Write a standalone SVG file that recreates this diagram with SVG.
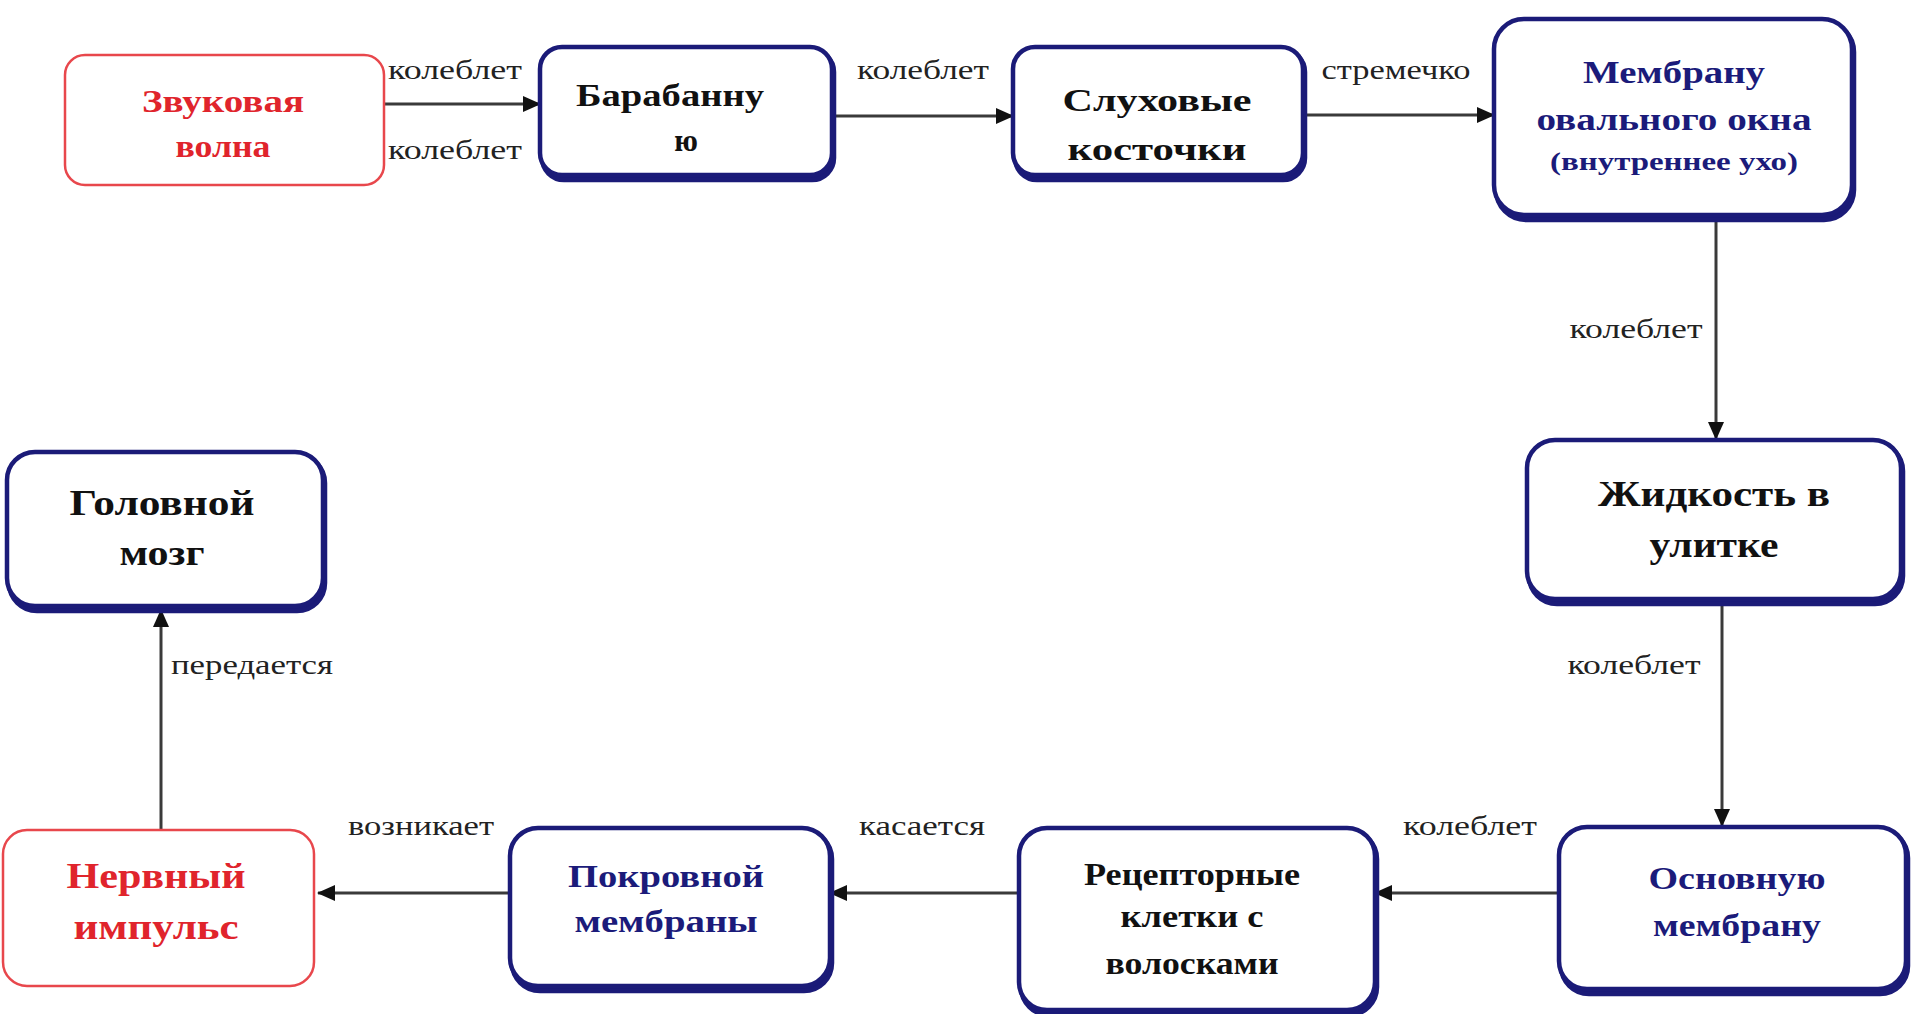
<svg xmlns="http://www.w3.org/2000/svg" width="1913" height="1014" viewBox="0 0 1913 1014">
<style>
.bg{fill:#ffffff}
.nb{fill:#ffffff;stroke:#1b1b78;stroke-width:4.5}
.sd{fill:#1b1b78;stroke:#1b1b78;stroke-width:4.5}
.nr{fill:#ffffff;stroke:#e8474c;stroke-width:2.5}
.t{font-family:'Liberation Serif','DejaVu Serif',serif;font-weight:bold;font-size:31px;text-anchor:middle}
.blk{fill:#111111}
.blu{fill:#1b1b7a}
.red{fill:#e0242c}
.lbl{font-family:'Liberation Serif','DejaVu Serif',serif;font-size:27px;fill:#222222;text-anchor:middle}
.c{stroke:#3a3a3a;stroke-width:3;fill:none;marker-end:url(#ah)}
</style>
<defs>
<marker id="ah" markerWidth="18" markerHeight="16" refX="17" refY="8" orient="auto" markerUnits="userSpaceOnUse" viewBox="0 0 18 16">
<path d="M0,0 L18,8 L0,16 z" fill="#111111"/>
</marker>
</defs>
<rect class="bg" x="0" y="0" width="1913" height="1014"/>

<g id="connectors">
<path class="c" d="M384,104 L540,104"/>
<path class="c" d="M832,116 L1013,116"/>
<path class="c" d="M1303,115 L1494,115"/>
<path class="c" d="M1716,217 L1716,439"/>
<path class="c" d="M1722,601 L1722,826"/>
<path class="c" d="M1559,893 L1375,893"/>
<path class="c" d="M1019,893 L830,893"/>
<path class="c" d="M510,893 L318,893"/>
<path class="c" d="M161,830 L161,610"/>
<text class="lbl" x="455" y="79" textLength="134" lengthAdjust="spacingAndGlyphs">колеблет</text>
<text class="lbl" x="455" y="159" textLength="134" lengthAdjust="spacingAndGlyphs">колеблет</text>
<text class="lbl" x="923" y="79" textLength="132" lengthAdjust="spacingAndGlyphs">колеблет</text>
<text class="lbl" x="1396" y="79" textLength="149" lengthAdjust="spacingAndGlyphs">стремечко</text>
<text class="lbl" x="1636" y="338" textLength="133" lengthAdjust="spacingAndGlyphs">колеблет</text>
<text class="lbl" x="1634" y="674" textLength="133" lengthAdjust="spacingAndGlyphs">колеблет</text>
<text class="lbl" x="1470" y="835" textLength="134" lengthAdjust="spacingAndGlyphs">колеблет</text>
<text class="lbl" x="922" y="835" textLength="126" lengthAdjust="spacingAndGlyphs">касается</text>
<text class="lbl" x="421" y="835" textLength="146" lengthAdjust="spacingAndGlyphs">возникает</text>
<text class="lbl" x="252" y="674" textLength="162" lengthAdjust="spacingAndGlyphs">передается</text>
</g>

<g id="n-zvuk">
<rect class="nr" x="65" y="55" width="319" height="130" rx="20"/>
<text class="t red" x="223" y="112" textLength="162" lengthAdjust="spacingAndGlyphs">Звуковая</text>
<text class="t red" x="223" y="157" textLength="95" lengthAdjust="spacingAndGlyphs">волна</text>
</g>

<g id="n-baraban">
<rect class="sd" x="542" y="50" width="292" height="130" rx="22"/>
<rect class="nb" x="540" y="47" width="292" height="128" rx="22"/>
<text class="t blk" x="670" y="106" textLength="188" lengthAdjust="spacingAndGlyphs">Барабанну</text>
<text class="t blk" x="686" y="151">ю</text>
</g>

<g id="n-kostochki">
<rect class="sd" x="1015" y="50" width="290" height="130" rx="22"/>
<rect class="nb" x="1013" y="47" width="290" height="128" rx="22"/>
<text class="t blk" x="1157" y="111" textLength="189" lengthAdjust="spacingAndGlyphs">Слуховые</text>
<text class="t blk" x="1157" y="160" textLength="179" lengthAdjust="spacingAndGlyphs">косточки</text>
</g>

<g id="n-oval">
<rect class="sd" x="1496" y="22" width="358" height="198" rx="30"/>
<rect class="nb" x="1494" y="19" width="358" height="196" rx="30"/>
<text class="t blu" x="1674" y="83" textLength="182" lengthAdjust="spacingAndGlyphs">Мембрану</text>
<text class="t blu" x="1674" y="130" textLength="275" lengthAdjust="spacingAndGlyphs">овального окна</text>
<text class="t blu" x="1674" y="170" style="font-size:25px" textLength="248" lengthAdjust="spacingAndGlyphs">(внутреннее ухо)</text>
</g>

<g id="n-zhidkost">
<rect class="sd" x="1529" y="443" width="374" height="161" rx="28"/>
<rect class="nb" x="1527" y="440" width="374" height="159" rx="28"/>
<text class="t blk" x="1714" y="506" style="font-size:35px" textLength="232" lengthAdjust="spacingAndGlyphs">Жидкость в</text>
<text class="t blk" x="1714" y="557" style="font-size:35px" textLength="129" lengthAdjust="spacingAndGlyphs">улитке</text>
</g>

<g id="n-osnov">
<rect class="sd" x="1561" y="830" width="347" height="164" rx="28"/>
<rect class="nb" x="1559" y="827" width="347" height="162" rx="28"/>
<text class="t blu" x="1737" y="889" textLength="177" lengthAdjust="spacingAndGlyphs">Основную</text>
<text class="t blu" x="1737" y="936" textLength="168" lengthAdjust="spacingAndGlyphs">мембрану</text>
</g>

<g id="n-receptor">
<rect class="sd" x="1021" y="831" width="356" height="184" rx="28"/>
<rect class="nb" x="1019" y="828" width="356" height="182" rx="28"/>
<text class="t blk" x="1192" y="885" textLength="216" lengthAdjust="spacingAndGlyphs">Рецепторные</text>
<text class="t blk" x="1192" y="927" textLength="143" lengthAdjust="spacingAndGlyphs">клетки с</text>
<text class="t blk" x="1192" y="974" textLength="173" lengthAdjust="spacingAndGlyphs">волосками</text>
</g>

<g id="n-pokrov">
<rect class="sd" x="512" y="831" width="320" height="160" rx="28"/>
<rect class="nb" x="510" y="828" width="320" height="158" rx="28"/>
<text class="t blu" x="666" y="887" textLength="196" lengthAdjust="spacingAndGlyphs">Покровной</text>
<text class="t blu" x="666" y="932" textLength="183" lengthAdjust="spacingAndGlyphs">мембраны</text>
</g>

<g id="n-nerv">
<rect class="nr" x="3" y="830" width="311" height="156" rx="24"/>
<text class="t red" x="156" y="888" style="font-size:35px" textLength="179" lengthAdjust="spacingAndGlyphs">Нервный</text>
<text class="t red" x="156" y="939" style="font-size:35px" textLength="165" lengthAdjust="spacingAndGlyphs">импульс</text>
</g>

<g id="n-mozg">
<rect class="sd" x="9" y="455" width="316" height="156" rx="28"/>
<rect class="nb" x="7" y="452" width="316" height="154" rx="28"/>
<text class="t blk" x="162" y="515" style="font-size:35px" textLength="185" lengthAdjust="spacingAndGlyphs">Головной</text>
<text class="t blk" x="162" y="565" style="font-size:35px" textLength="85" lengthAdjust="spacingAndGlyphs">мозг</text>
</g>
</svg>
